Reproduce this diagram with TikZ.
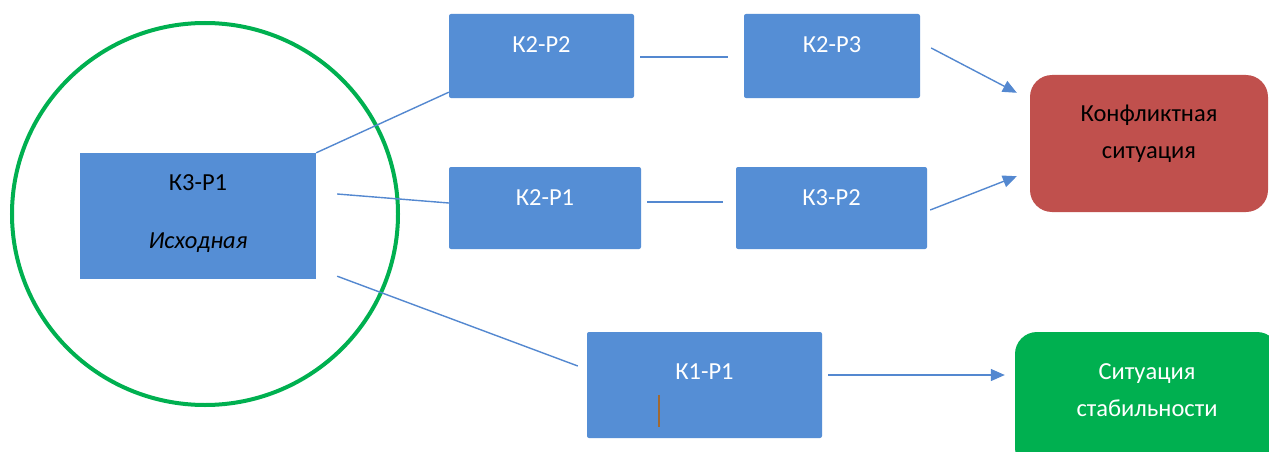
\documentclass[tikz,border=0pt]{standalone}
\usepackage{fontspec}
\setmainfont{Carlito}
\usetikzlibrary{arrows.meta}
\definecolor{boxblue}{RGB}{85,142,213}
\definecolor{linkblue}{RGB}{84,136,208}
\definecolor{conred}{RGB}{192,80,77}
\definecolor{stabgreen}{RGB}{0,176,80}
\definecolor{cursorbrown}{RGB}{160,105,50}
\begin{document}
\begin{tikzpicture}[x=1pt,y=-1pt,
  box/.style={fill=boxblue, rounded corners=2pt, inner sep=0pt},
  txt/.style={font=\fontsize{24.5}{37}\selectfont, anchor=center, align=center, inner sep=0pt},
  wtxt/.style={txt, text=white},
  btxt/.style={txt, text=black},
  link/.style={draw=linkblue, line width=1.4pt},
  arr/.style={link, -{Triangle[length=14pt,width=12pt]}},
]
\clip (0,0) rectangle (1269,452);
\fill[white] (0,0) rectangle (1269,452);

% green ring
\draw[stabgreen, line width=4pt] (205,214) ellipse [x radius=193, y radius=191];

% boxes
\node[box, rounded corners=0pt, minimum width=236pt, minimum height=126pt,
      label={[btxt, yshift=-30pt]north:К3-Р1},
      label={[btxt, yshift=-90pt, font=\fontsize{24.5}{37}\selectfont\itshape]north:Исходная}]
      (k3p1) at (198,216) {};
\node[box, minimum width=185pt, minimum height=84pt,
      label={[wtxt, yshift=-31pt]north:К2-Р2}] (k2p2) at (541.5,56) {};
\node[box, minimum width=176pt, minimum height=84pt,
      label={[wtxt, yshift=-31pt]north:К2-Р3}] (k2p3) at (832,56) {};
\node[box, minimum width=192pt, minimum height=82pt,
      label={[wtxt, yshift=-31pt]north:К2-Р1}] (k2p1) at (545,208) {};
\node[box, minimum width=191pt, minimum height=82pt,
      label={[wtxt, yshift=-31pt]north:К3-Р2}] (k3p2) at (831.5,208) {};
\node[box, minimum width=235pt, minimum height=106pt,
      label={[wtxt, yshift=-40pt]north:К1-Р1}] (k1p1) at (704.5,385) {};
\node[fill=conred, rounded corners=22pt, inner sep=0pt, minimum width=238pt, minimum height=137pt,
      label={[btxt, yshift=-59pt]north:Конфликтная\\ситуация}] (conf) at (1149,143.5) {};
\node[fill=stabgreen, rounded corners=22pt, inner sep=0pt, minimum width=264pt, minimum height=138pt,
      label={[wtxt, yshift=-58.5pt]north:Ситуация\\стабильности}] (stab) at (1147,401) {};

% text cursor mark
\draw[cursorbrown, line width=1.3pt] ([xshift=-45.5pt,yshift=-10pt]k1p1.center) -- ([xshift=-45.5pt,yshift=-42pt]k1p1.center);

% connectors
\draw[link] (k3p1.north east) -- ([yshift=6pt]k2p2.south west);
\draw[link] ([xshift=21pt,yshift=22pt]k3p1.east) -- ([yshift=5pt]k2p1.west);
\draw[link] ([xshift=21pt,yshift=3pt]k3p1.south east) -- ([xshift=-9pt,yshift=19pt]k1p1.west);
\draw[link] ([xshift=6pt,yshift=-1pt]k2p2.east) -- ([xshift=-16pt,yshift=-1pt]k2p3.west);
\draw[link] ([xshift=6pt,yshift=6pt]k2p1.east) -- ([xshift=-13pt,yshift=6pt]k3p2.west);
\draw[arr] ([xshift=11pt,yshift=8pt]k2p3.east) -- ([xshift=-13pt,yshift=-18pt]conf.north west);
\draw[arr] ([xshift=3pt,yshift=-2pt]k3p2.east) -- ([xshift=-13pt,yshift=36pt]conf.south west);
\draw[arr] ([xshift=6pt,yshift=10pt]k1p1.east) -- ([xshift=-10pt,yshift=26pt]stab.west);
\end{tikzpicture}
\end{document}
